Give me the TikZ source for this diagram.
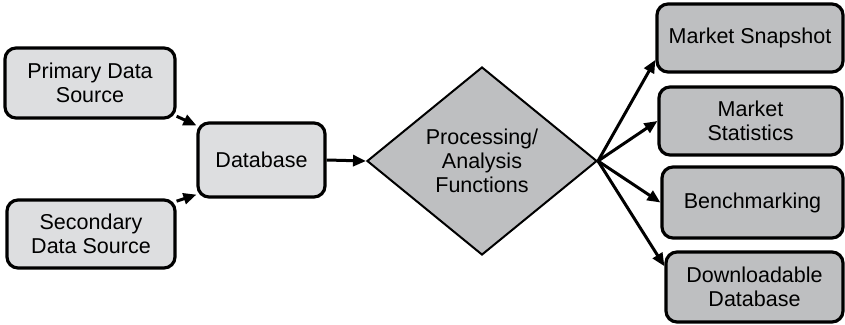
\documentclass[tikz,border=0pt]{standalone}
\usepackage{fontspec}
\setmainfont{Liberation Sans}
\usepackage{tikz}
\usetikzlibrary{arrows.meta,shapes.geometric}
\definecolor{lightbox}{HTML}{DDDEE0}
\definecolor{darkbox}{HTML}{BEBFC1}

\begin{document}
\begin{tikzpicture}[x=1pt,y=-1pt]
  \tikzset{box/.style={draw, line width=3.2pt, rounded corners=11pt, align=center,
             font=\fontsize{21.5}{24}\selectfont, inner sep=0pt},
           srcbox/.style={box, fill=lightbox},
           outbox/.style={box, fill=darkbox},
           flow/.style={line width=3pt, -{Triangle[length=13pt,width=11pt]}}}
  \useasboundingbox (0,0) rectangle (845,324);
  \node[srcbox, minimum width=170pt, minimum height=70pt] (primary) at (90,83) {Primary Data\\Source};
  \node[srcbox, minimum width=168pt, minimum height=68pt] (secondary) at (91,234) {Secondary\\Data Source};
  \node[srcbox, minimum width=127pt, minimum height=74pt] (database) at (261.5,160) {Database};
  \node[diamond, draw, line width=2pt, fill=darkbox, aspect=1.22, inner sep=0pt,
        minimum width=230pt, minimum height=188pt, align=center,
        font=\fontsize{21.5}{24}\selectfont] (proc) at (482,161) {Processing/\\Analysis\\Functions};
  \node[outbox, minimum width=186pt, minimum height=68pt] (snapshot) at (750,38) {Market Snapshot};
  \node[outbox, minimum width=183pt, minimum height=68pt] (stats) at (750.5,121) {Market\\Statistics};
  \node[outbox, minimum width=181pt, minimum height=71pt] (bench) at (752.5,202.5) {Benchmarking};
  \node[outbox, minimum width=177pt, minimum height=70pt] (download) at (754.5,287) {Downloadable\\Database};
  \draw[flow] (primary.-21) -- (database.152);
  \draw[flow] (secondary.21) -- (database.208);
  \draw[flow] (database.east) -- (proc.west);
  \draw[flow] (proc.east) -- (snapshot.193);
  \draw[flow] (proc.east) -- (stats.west);
  \draw[flow] (proc.east) -- (bench.west);
  \draw[flow] (proc.east) -- (download.167);
\end{tikzpicture}
\end{document}
